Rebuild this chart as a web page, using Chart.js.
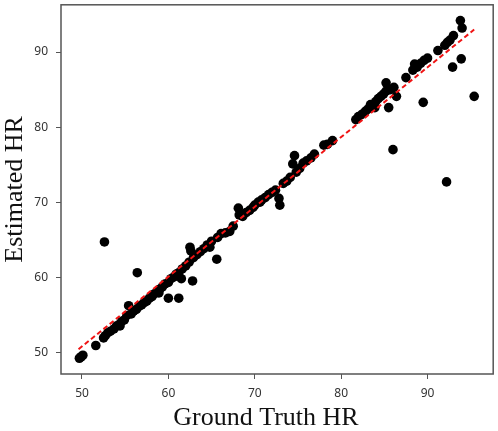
<!DOCTYPE html>
<html>
<head>
<meta charset="utf-8">
<script src="https://cdn.jsdelivr.net/npm/chart.js@4.4.1/dist/chart.umd.min.js"></script>
<style>
  html, body { margin: 0; padding: 0; background: #fff; }
  #wrap { width: 498px; height: 431px; }
</style>
</head>
<body>
<div id="wrap"><canvas id="hrChart" width="498" height="431"></canvas></div>
<script>
// Ground truth vs estimated heart rate
const groundTruth = [
  49.7, 49.9, 50.1, 51.6, 52.5, 52.7, 53.0, 53.3, 53.7, 54.0, 54.3, 54.6, 54.9, 55.2, 55.4, 55.7,
  56.0, 56.3, 56.6, 56.9, 57.2, 57.5, 57.8, 58.1, 58.4, 58.7, 59.0, 59.3, 59.6, 60.0, 60.3, 60.6,
  60.9, 61.2, 61.5, 61.6, 62.0, 62.4, 62.8, 60.0, 61.2, 52.6, 56.4,
  62.5, 62.6, 62.9, 63.3, 63.7, 64.1, 64.5, 65.0, 65.6, 65.7, 66.1, 66.6, 67.1, 67.5,
  68.1, 68.2, 68.6, 69.0, 69.4, 69.8, 70.0, 70.4, 70.8, 71.2, 71.6, 72.0, 72.4, 72.8, 72.9, 73.3,
  73.7, 74.1, 74.4, 74.6, 74.8, 75.2, 75.6, 76.0, 76.5, 76.9, 78.0, 78.4, 79.0,
  81.7, 82.0, 82.4, 82.8, 83.1, 83.4, 83.7, 84.0, 84.3, 84.6, 84.9, 85.2, 85.2, 85.5, 85.7, 86.1,
  86.4, 86.0, 87.5, 88.3, 88.5, 88.8, 89.2, 89.6, 90.0, 89.5, 91.2, 92.0, 92.3, 92.6, 93.0, 93.8,
  94.0, 93.9, 92.9, 92.2, 95.4, 54.4, 58.9, 64.8, 70.6, 83.9
];
const estimated = [
  49.2, 49.4, 49.6, 50.9, 51.9, 52.2, 52.6, 52.8, 53.1, 53.5, 53.7, 54.1, 54.3, 54.9, 56.2, 55.1,
  55.5, 55.7, 56.1, 56.3, 56.6, 56.8, 57.2, 57.4, 57.8, 58.0, 58.4, 58.7, 59.1, 59.3, 59.8, 60.0,
  60.4, 60.6, 59.8, 61.1, 61.5, 62.0, 59.5, 57.2, 57.2, 64.7, 60.6,
  64.0, 63.5, 62.6, 63.0, 63.4, 63.8, 64.3, 64.8, 62.4, 65.3, 65.8, 65.9, 66.1, 66.8,
  69.2, 68.3, 68.1, 68.6, 68.9, 69.3, 69.6, 70.0, 70.3, 70.6, 71.0, 71.3, 71.6, 70.5, 69.6, 72.5,
  72.8, 73.3, 75.1, 76.2, 74.0, 74.5, 75.2, 75.5, 75.9, 76.4, 77.6, 77.7, 78.2,
  81.0, 81.4, 81.7, 82.1, 82.4, 83.0, 82.9, 83.4, 83.8, 84.1, 84.4, 84.8, 85.9, 82.6, 85.0, 85.3,
  84.1, 77.0, 86.6, 87.6, 88.4, 88.0, 88.5, 88.9, 89.2, 83.3, 90.2, 90.9, 91.3, 91.6, 92.2, 94.2,
  93.2, 89.1, 88.0, 72.7, 84.1, 53.5, 57.9, 64.0, 70.0, 82.6
];

// Fitted regression line (red dashed), end points
const fitX = [49.6, 95.4];
const fitY = [50.4, 93.0];

// Axis ticks and ranges
const xTickValues = [50, 60, 70, 80, 90];
const yTickValues = [50, 60, 70, 80, 90];
const xRange = [47.57, 97.6];
const yRange = [47.1, 96.3];

const xTitle = 'Ground Truth HR';
const yTitle = 'Estimated HR';

const points = groundTruth.map((g, i) => ({ x: g, y: estimated[i] }));
const fitLine = fitX.map((x, i) => ({ x: x, y: fitY[i] }));

// Box around the plot area plus the two serif axis titles
const frameAndTitles = {
    id: 'frameAndTitles',
    afterDraw(chart) {
        const ctx = chart.ctx;
        const a = chart.chartArea;
        ctx.save();
        ctx.strokeStyle = '#555';
        ctx.lineWidth = 1.5;
        ctx.strokeRect(a.left, a.top, a.right - a.left, a.bottom - a.top);

        ctx.fillStyle = '#111';
        ctx.font = '26px "Liberation Serif", "Times New Roman", serif';
        ctx.textAlign = 'center';
        ctx.textBaseline = 'alphabetic';
        ctx.fillText(xTitle, 266, 425);

        ctx.translate(22, (a.top + a.bottom) / 2);
        ctx.rotate(-Math.PI / 2);
        ctx.fillText(yTitle, 0, 0);
        ctx.restore();
    }
};

const tickFont = { family: '"Noto Sans", "DejaVu Sans", sans-serif', size: 12 };

const ctx = document.getElementById('hrChart').getContext('2d');
const hrChart = new Chart(ctx, {
    type: 'scatter',
    data: {
        datasets: [
            {
                type: 'line',
                label: 'Fit',
                data: fitLine,
                borderColor: '#f01414',
                borderWidth: 2,
                borderDash: [5, 3],
                pointRadius: 0,
                fill: false,
                order: 0
            },
            {
                label: 'HR',
                data: points,
                backgroundColor: '#000',
                borderColor: '#000',
                borderWidth: 0,
                pointRadius: 4.8,
                order: 1
            }
        ]
    },
    options: {
        responsive: false,
        animation: false,
        layout: { padding: { top: 3, right: 4, left: 0, bottom: 0 } },
        plugins: {
            legend: { display: false },
            tooltip: { enabled: false }
        },
        scales: {
            x: {
                type: 'linear',
                min: xRange[0],
                max: xRange[1],
                afterBuildTicks: (scale) => { scale.ticks = xTickValues.map(v => ({ value: v })); },
                afterFit: (scale) => {
                    scale.height = 57;
                    scale.paddingLeft = 0;
                    scale.paddingRight = 0;
                },
                grid: { drawOnChartArea: false, tickLength: 5, color: '#555' },
                border: { display: false },
                ticks: { color: '#333', font: tickFont, padding: 7, maxRotation: 0 }
            },
            y: {
                type: 'linear',
                min: yRange[0],
                max: yRange[1],
                afterBuildTicks: (scale) => { scale.ticks = yTickValues.map(v => ({ value: v })); },
                afterFit: (scale) => {
                    scale.width = 61;
                    scale.paddingTop = 0;
                    scale.paddingBottom = 0;
                },
                grid: { drawOnChartArea: false, tickLength: 5, color: '#555' },
                border: { display: false },
                ticks: { color: '#333', font: tickFont, padding: 8 }
            }
        }
    },
    plugins: [frameAndTitles]
});
</script>
</body>
</html>
